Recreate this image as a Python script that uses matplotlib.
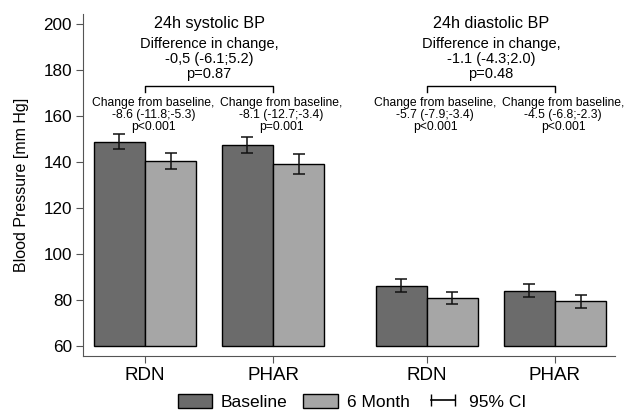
import matplotlib.pyplot as plt
from matplotlib.patches import Patch
from matplotlib.lines import Line2D

plt.rcParams['font.family'] = ['Liberation Sans', 'DejaVu Sans']

# group order: systolic RDN, systolic PHAR, diastolic RDN, diastolic PHAR
groups = ['RDN', 'PHAR', 'RDN', 'PHAR']
xpos = [1, 2, 3.2, 4.2]
baseline = [148.7, 147.2, 86.1, 84.0]
baseline_lo = [145.4, 143.8, 83.3, 81.2]
baseline_hi = [152.1, 150.6, 88.9, 86.7]
month6 = [140.3, 139.2, 80.9, 79.4]
month6_lo = [136.8, 134.8, 78.0, 76.6]
month6_hi = [143.8, 143.5, 83.5, 82.0]

panel_titles = ['24h systolic BP', '24h diastolic BP']
diff_text = ['Difference in change,\n-0,5 (-6.1;5.2)\np=0.87',
             'Difference in change,\n-1.1 (-4.3;2.0)\np=0.48']
change_text = ['Change from baseline,\n-8.6 (-11.8;-5.3)\np<0.001',
               'Change from baseline,\n-8.1 (-12.7;-3.4)\np=0.001',
               'Change from baseline,\n-5.7 (-7.9;-3.4)\np<0.001',
               'Change from baseline,\n-4.5 (-6.8;-2.3)\np<0.001']

dark = '#6b6b6b'
light = '#a6a6a6'
w = 0.4

fig = plt.figure(figsize=(6.35, 4.11), dpi=100)
ax = fig.add_axes([0.1307, 0.134, 0.838, 0.832])

xb = [x - w / 2 for x in xpos]
xm = [x + w / 2 for x in xpos]
hb = [v - 60 for v in baseline]
hm = [v - 60 for v in month6]
ax.bar(xb, hb, w, bottom=60, color=dark, edgecolor='black', linewidth=1.0)
ax.bar(xm, hm, w, bottom=60, color=light, edgecolor='black', linewidth=1.0)

eb = [[b - l for b, l in zip(baseline, baseline_lo)], [h - b for b, h in zip(baseline, baseline_hi)]]
em = [[b - l for b, l in zip(month6, month6_lo)], [h - b for b, h in zip(month6, month6_hi)]]
ax.errorbar(xb, baseline, yerr=eb, fmt='none', ecolor='#111111', elinewidth=1.1, capsize=4, capthick=1.1)
ax.errorbar(xm, month6, yerr=em, fmt='none', ecolor='#111111', elinewidth=1.1, capsize=4, capthick=1.1)

ax.set_xlim(0.516, 4.67)
ax.set_ylim(55.6, 204.3)
ax.set_yticks(range(60, 201, 20))
ax.set_xticks(xpos)
ax.set_xticklabels(groups, fontsize=13.5)
ax.tick_params(axis='y', labelsize=12.3, length=5, pad=3, color='#555555')
ax.tick_params(axis='x', length=5, pad=3, color='#555555')
for s in ['top', 'right']:
    ax.spines[s].set_visible(False)
for s in ['left', 'bottom']:
    ax.spines[s].set_color('#555555')
ax.set_ylabel('Blood Pressure [mm Hg]', fontsize=11.5, labelpad=10)

# panel annotations
for i in range(2):
    x0 = xpos[2 * i]
    x1 = xpos[2 * i + 1]
    xc = (x0 + x1) / 2
    ax.text(xc, 200.2, panel_titles[i], ha='center', va='center', fontsize=11.6)
    ax.text(xc, 184.6, diff_text[i], ha='center', va='center', fontsize=10.5, linespacing=1.1)
    ax.plot([x0, x0, x1, x1], [170.4, 173.0, 173.0, 170.4], color='black', lw=1.0)

for i in range(4):
    ax.text(xpos[i] + 0.065, 160.2, change_text[i], ha='center', va='center', fontsize=8.7, linespacing=1.0)

handles = [Patch(facecolor=dark, edgecolor='black'),
           Patch(facecolor=light, edgecolor='black'),
           Line2D([], [], color='black', lw=1.2, marker='|', markersize=8)]
fig.legend(handles, ['Baseline', '6 Month', '95% CI'], loc='center',
           bbox_to_anchor=(0.554, 0.022), ncol=3, frameon=False, fontsize=12.5,
           numpoints=2, handlelength=2.0, handleheight=0.9, handletextpad=0.5,
           columnspacing=0.9, borderpad=0)

fig.savefig('out.png', dpi=100)
